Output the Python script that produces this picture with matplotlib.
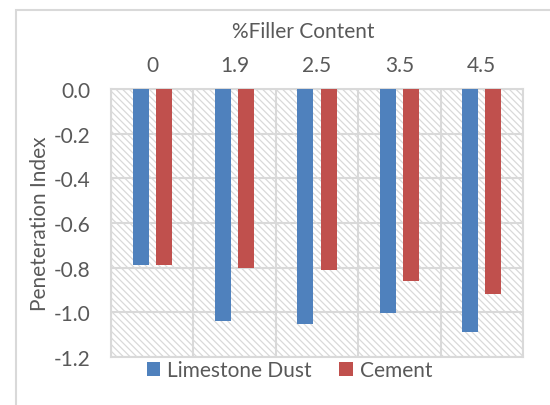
import numpy as np
import matplotlib.pyplot as plt
from matplotlib.patches import Rectangle

plt.rcParams['font.family'] = ['Lato', 'DejaVu Sans']
plt.rcParams['hatch.color'] = '#d0d0d0'
plt.rcParams['hatch.linewidth'] = 0.9

# data
filler = ['0', '1.9', '2.5', '3.5', '4.5']
limestone = [-0.787, -1.037, -1.054, -1.002, -1.090]
cement = [-0.787, -0.803, -0.812, -0.861, -0.917]
yticks = [-1.2, -1.0, -0.8, -0.6, -0.4, -0.2, 0.0]
ylabels = ['-1.2', '-1.0', '-0.8', '-0.6', '-0.4', '-0.2', '0.0']

txt = '#595959'
grid = '#d9d9d9'
fs = 15

fig = plt.figure(figsize=(5.5, 4.06), dpi=100)
ax = fig.add_axes([111/550, 1 - 358/406, (523-111)/550, (358-90)/406])

# outer chart frame
fig.patches.append(Rectangle((16/550, -0.1), 1.2, 1 - 11/406 + 0.1, transform=fig.transFigure,
                             fill=False, edgecolor=grid, linewidth=1.5))

# hatched plot area
ax.add_patch(Rectangle((0, 0), 1, 1, transform=ax.transAxes, facecolor='white',
                       edgecolor=grid, hatch='\\\\\\\\\\', linewidth=0, zorder=0))

x = np.arange(len(filler))
w = 0.194
ax.bar(x - 0.14, limestone, w, color='#4f81bd', label='Limestone Dust', zorder=3)
ax.bar(x + 0.14, cement, w, color='#c0504d', label='Cement', zorder=3)

ax.set_xlim(-0.5, 4.5)
ax.set_ylim(-1.2, 0)
ax.set_yticks(yticks)
ax.set_yticklabels(ylabels)
ax.set_xticks(x)
ax.set_xticklabels(filler)
ax.set_xticks(np.arange(-0.5, 4.6, 1), minor=True)
ax.xaxis.tick_top()
ax.tick_params(which='both', length=0, colors=txt, labelsize=fs)
ax.tick_params(axis='x', pad=10)
ax.tick_params(axis='y', pad=15)
ax.grid(True, which='minor', axis='x', color=grid, linewidth=1.5, zorder=1)
ax.grid(True, which='major', axis='y', color=grid, linewidth=1.5, zorder=1)
ax.set_axisbelow(True)
for s in ax.spines.values():
    s.set_color(grid)
    s.set_linewidth(1.5)

fig.text(303/550, 1 - 32/406, '%Filler Content', color=txt, fontsize=fs,
         ha='center', va='center')
ax.set_ylabel('Peneteration Index', color=txt, fontsize=fs)
ax.yaxis.set_label_coords(-0.148, 0.5)

fig.legend(*ax.get_legend_handles_labels(), loc='center',
           bbox_to_anchor=(289.5/550, 1 - 371/406), ncol=2, frameon=False,
           fontsize=fs, labelcolor=txt, handlelength=0.65, handleheight=0.65,
           handletextpad=0.35, columnspacing=1.3, borderpad=0)

fig.savefig('out.png', dpi=100)
